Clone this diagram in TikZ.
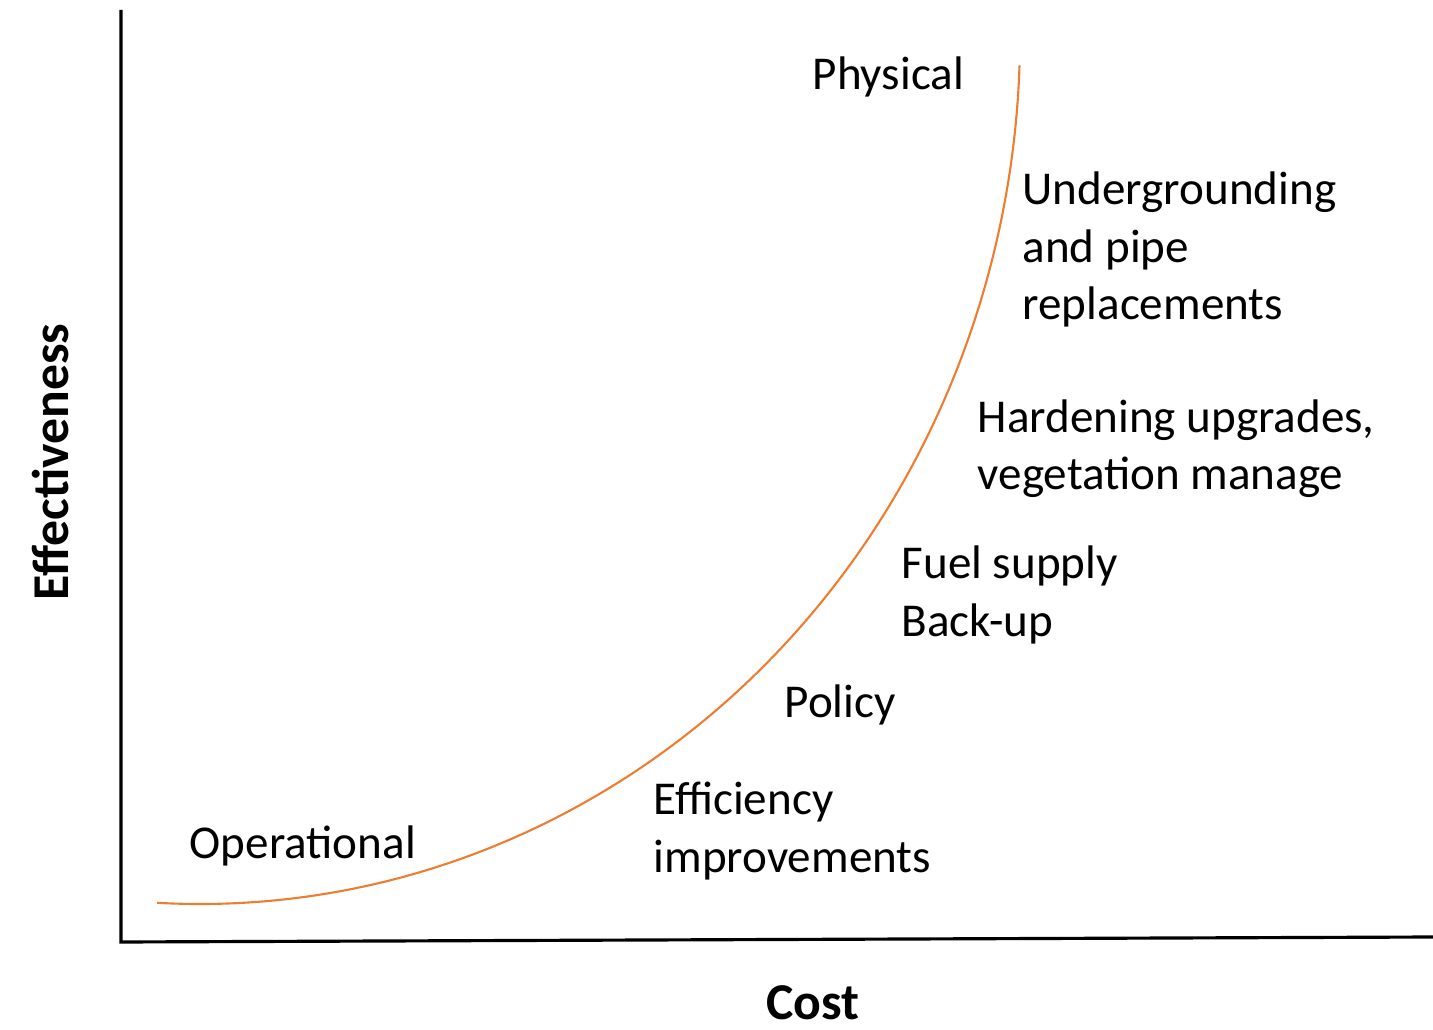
\documentclass[tikz,border=0pt]{standalone}
\usepackage{fontspec}
\setmainfont{Carlito}
\definecolor{curveorange}{HTML}{ED7D31}

\begin{document}
\begin{tikzpicture}
  [x=0.1mm,y=-0.1mm,every node/.style={inner sep=0pt,anchor=base west,align=left,font=\fontsize{13.4}{16.4}\selectfont},
   axislabel/.style={anchor=base,font=\bfseries\fontsize{14.7}{17.5}\selectfont}]
\useasboundingbox (0,0) rectangle (1433,1030);
  \coordinate (ytop) at (121,10);
  \coordinate (orig) at (121,942);
  \coordinate (xend) at (1433,937);
  \draw[line width=0.9pt] (ytop) -- (orig) -- (xend);

  % cost-effectiveness curve, a quarter ellipse
  \coordinate (cstart) at (157.1,902.8);
  \draw[curveorange,line width=0.6pt] (cstart) arc[start angle=93,end angle=2,x radius=820,y radius=869];

  \node (phys) at (812,90) {Physical};
  \node (under) at (1022,320) {Undergrounding\\and pipe\\replacements};
  \node (hard) at (977,490) {Hardening upgrades,\\vegetation manage};
  \node (fuel) at (901,636) {Fuel supply\\Back-up};
  \node (pol) at (784,718) {Policy};
  \node (eff) at (653,872) {Efficiency\\improvements};
  \node (oper) at (189,858) {Operational};

  \node[axislabel,rotate=90] (yl) at (68,462) {Effectiveness};
  \node[axislabel] (xl) at (813,1019) {Cost};
\end{tikzpicture}
\end{document}
